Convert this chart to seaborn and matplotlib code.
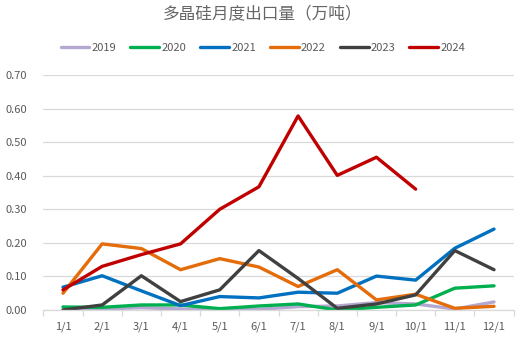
import matplotlib
matplotlib.use("Agg")
import matplotlib.pyplot as plt
import seaborn as sns
import pandas as pd
from matplotlib.ticker import FixedLocator

months = ["1/1", "2/1", "3/1", "4/1", "5/1", "6/1", "7/1", "8/1", "9/1", "10/1", "11/1", "12/1"]
y2019 = [0.000, 0.003, 0.007, 0.003, 0.002, 0.002, 0.010, 0.012, 0.022, 0.018, 0.003, 0.024]
y2020 = [0.009, 0.008, 0.015, 0.015, 0.004, 0.012, 0.018, 0.000, 0.008, 0.015, 0.065, 0.072]
y2021 = [0.068, 0.102, 0.057, 0.013, 0.040, 0.036, 0.053, 0.050, 0.101, 0.089, 0.184, 0.241]
y2022 = [0.050, 0.197, 0.183, 0.120, 0.153, 0.128, 0.070, 0.120, 0.030, 0.047, 0.005, 0.011]
y2023 = [0.000, 0.015, 0.102, 0.025, 0.060, 0.177, 0.094, 0.005, 0.018, 0.045, 0.177, 0.120]
y2024 = [0.060, 0.130, 0.165, 0.197, 0.300, 0.367, 0.578, 0.401, 0.455, 0.360]
years = ["2019", "2020", "2021", "2022", "2023", "2024"]
colors = ["#B4A7D0", "#00B050", "#0070C0", "#E46C0A", "#404040", "#C00000"]

series = [y2019, y2020, y2021, y2022, y2023, y2024]
rows = []
for yr, vals in zip(years, series):
    for m, v in zip(months, vals):
        rows.append({"month": m, "value": v, "year": yr})
df = pd.DataFrame(rows)
df["month"] = pd.Categorical(df["month"], categories=months, ordered=True)

sns.set_theme(style="white")
plt.rcParams["font.family"] = ["Noto Sans CJK SC", "DejaVu Sans"]

fig = plt.figure(figsize=(5.26, 3.44), dpi=100)
ax = fig.add_axes([43.4 / 526, 1 - 310 / 344, (513.6 - 43.4) / 526, (310 - 75) / 344])

sns.lineplot(data=df, x="month", y="value", hue="year", palette=dict(zip(years, colors)),
             linewidth=2.4, sort=False, ax=ax, legend=True)

ax.set_xlim(-0.5, 11.5)
ax.set_ylim(0, 0.70)
ax.set_yticks([i / 10 for i in range(8)])
ax.set_yticklabels([f"{i/10:.2f}" for i in range(8)])
ax.set_xlabel("")
ax.set_ylabel("")
ax.grid(axis="y", color="#D9D9D9", linewidth=0.9)
ax.set_axisbelow(True)
for s in ["top", "right", "left"]:
    ax.spines[s].set_visible(False)
ax.spines["bottom"].set_color("#D9D9D9")
ax.spines["bottom"].set_linewidth(0.9)
ax.tick_params(axis="x", which="major", length=0, labelsize=8, colors="#595959", pad=8)
ax.tick_params(axis="y", length=0, labelsize=8, colors="#595959", pad=12)
ax.xaxis.set_minor_locator(FixedLocator([i - 0.5 for i in range(13)]))
ax.tick_params(axis="x", which="minor", length=4, color="#D9D9D9", width=0.9, bottom=True)

handles, labels = ax.get_legend_handles_labels()
ax.legend_.remove()
fig.legend(handles, labels, loc="center", bbox_to_anchor=(0.5, 1 - 48 / 344), ncol=6,
           frameon=False, fontsize=8, handlelength=2.6, handletextpad=0.2, columnspacing=1.25,
           labelcolor="#595959")

fig.text(0.5, 1 - 14 / 344, "多晶硅月度出口量（万吨）", ha="center", va="center",
         fontsize=12, color="#666666")

fig.savefig("out.png", dpi=100)
